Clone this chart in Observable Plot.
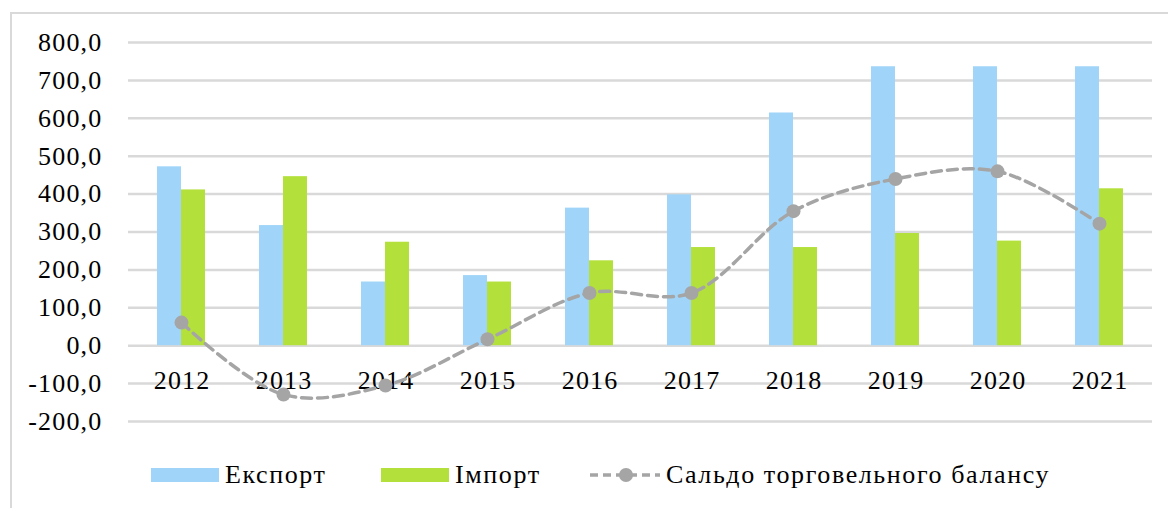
<!DOCTYPE html>
<html>
<head>
<meta charset="utf-8">
<script src="https://cdn.jsdelivr.net/npm/d3@7"></script>
<script src="https://cdn.jsdelivr.net/npm/@observablehq/plot@0.6"></script>
<style>
  html, body { margin: 0; padding: 0; background: #fff; }
  body { width: 1168px; height: 508px; position: relative; overflow: hidden; font-family: "Liberation Serif", "Times New Roman", serif; }
  #frame { position: absolute; left: 10px; top: 12px; width: 1200px; height: 520px; border-left: 2px solid #d9d9d9; border-top: 2px solid #d9d9d9; pointer-events: none; }
  #chart { position: absolute; left: 0; top: 0; }
  #legend { position: absolute; left: 0; top: 458px; width: 1168px; height: 34px; font-size: 26px; color: #000; letter-spacing: 1.6px; }
  .item { position: absolute; top: 0; display: flex; align-items: center; height: 34px; white-space: nowrap; }
  .sw { width: 68px; height: 14px; margin-right: 6px; }
</style>
</head>
<body>
<div id="chart"></div>
<div id="legend">
  <div class="item" style="left:151px"><div class="sw" style="background:#a0d5f9"></div><span id="l1"></span></div>
  <div class="item" style="left:381px"><div class="sw" style="background:#b3e03b"></div><span id="l2"></span></div>
  <div class="item" style="left:590px"><svg width="72" height="20" style="margin-right:4px"><line x1="0" y1="10" x2="70" y2="10" stroke="#a5a5a5" stroke-width="3.5" stroke-dasharray="8,5"/><circle cx="36" cy="10" r="7" fill="#a5a5a5"/></svg><span id="l3"></span></div>
</div>
<div id="frame"></div>
<script>
const years = ["2012","2013","2014","2015","2016","2017","2018","2019","2020","2021"];
const exportVals = [472, 317, 168, 185, 363, 398, 614, 736, 736, 736];
const importVals = [411, 446, 273, 168, 224, 259, 259, 296, 276, 414];
const balanceVals = [61, -129, -105, 17, 139, 139, 355, 440, 460, 322];
const yTicks = [-200, -100, 0, 100, 200, 300, 400, 500, 600, 700, 800];
const seriesNames = ["Експорт", "Імпорт", "Сальдо торговельного балансу"];
const colors = ["#a0d5f9", "#b3e03b", "#a5a5a5"];

document.getElementById("l1").textContent = seriesNames[0];
document.getElementById("l2").textContent = seriesNames[1];
document.getElementById("l3").textContent = seriesNames[2];

const exp = years.map((y, i) => ({year: y, value: exportVals[i]}));
const imp = years.map((y, i) => ({year: y, value: importVals[i]}));
const bal = years.map((y, i) => ({year: y, value: balanceVals[i]}));

const halfBar = 24;
const fmt = d => d.toFixed(1).replace(".", ",");

const chart = Plot.plot({
  width: 1168,
  height: 440,
  marginLeft: 128,
  marginRight: 16,
  marginTop: 42,
  marginBottom: 19,
  style: {fontFamily: "Liberation Serif, Times New Roman, serif", fontSize: "26px", color: "#000", background: "transparent", letterSpacing: "1.2px"},
  x: {domain: years, paddingInner: 0.531, paddingOuter: 0.2655, axis: null},
  y: {domain: [-200, 800], axis: null},
  marks: [
    Plot.ruleY(yTicks, {stroke: "#d9d9d9", strokeWidth: 2.5}),
    Plot.axisY(yTicks, {tickSize: 0, tickPadding: 26, tickFormat: fmt, fontSize: 26, fill: "#000", textAnchor: "end", label: null}),
    Plot.barY(exp, {x: "year", y: "value", fill: colors[0], insetRight: halfBar}),
    Plot.barY(imp, {x: "year", y: "value", fill: colors[1], insetLeft: halfBar}),
    Plot.text(years, {x: d => d, y: () => 0, dy: 35, dx: 0.6, text: d => d, fontSize: 26, fill: "#000"}),
    Plot.line(bal, {x: "year", y: "value", stroke: colors[2], strokeWidth: 3.5, strokeDasharray: "10,6", curve: "catmull-rom"}),
    Plot.dot(bal, {x: "year", y: "value", r: 7, fill: colors[2]})
  ]
});
document.getElementById("chart").appendChild(chart);
</script>
</body>
</html>
